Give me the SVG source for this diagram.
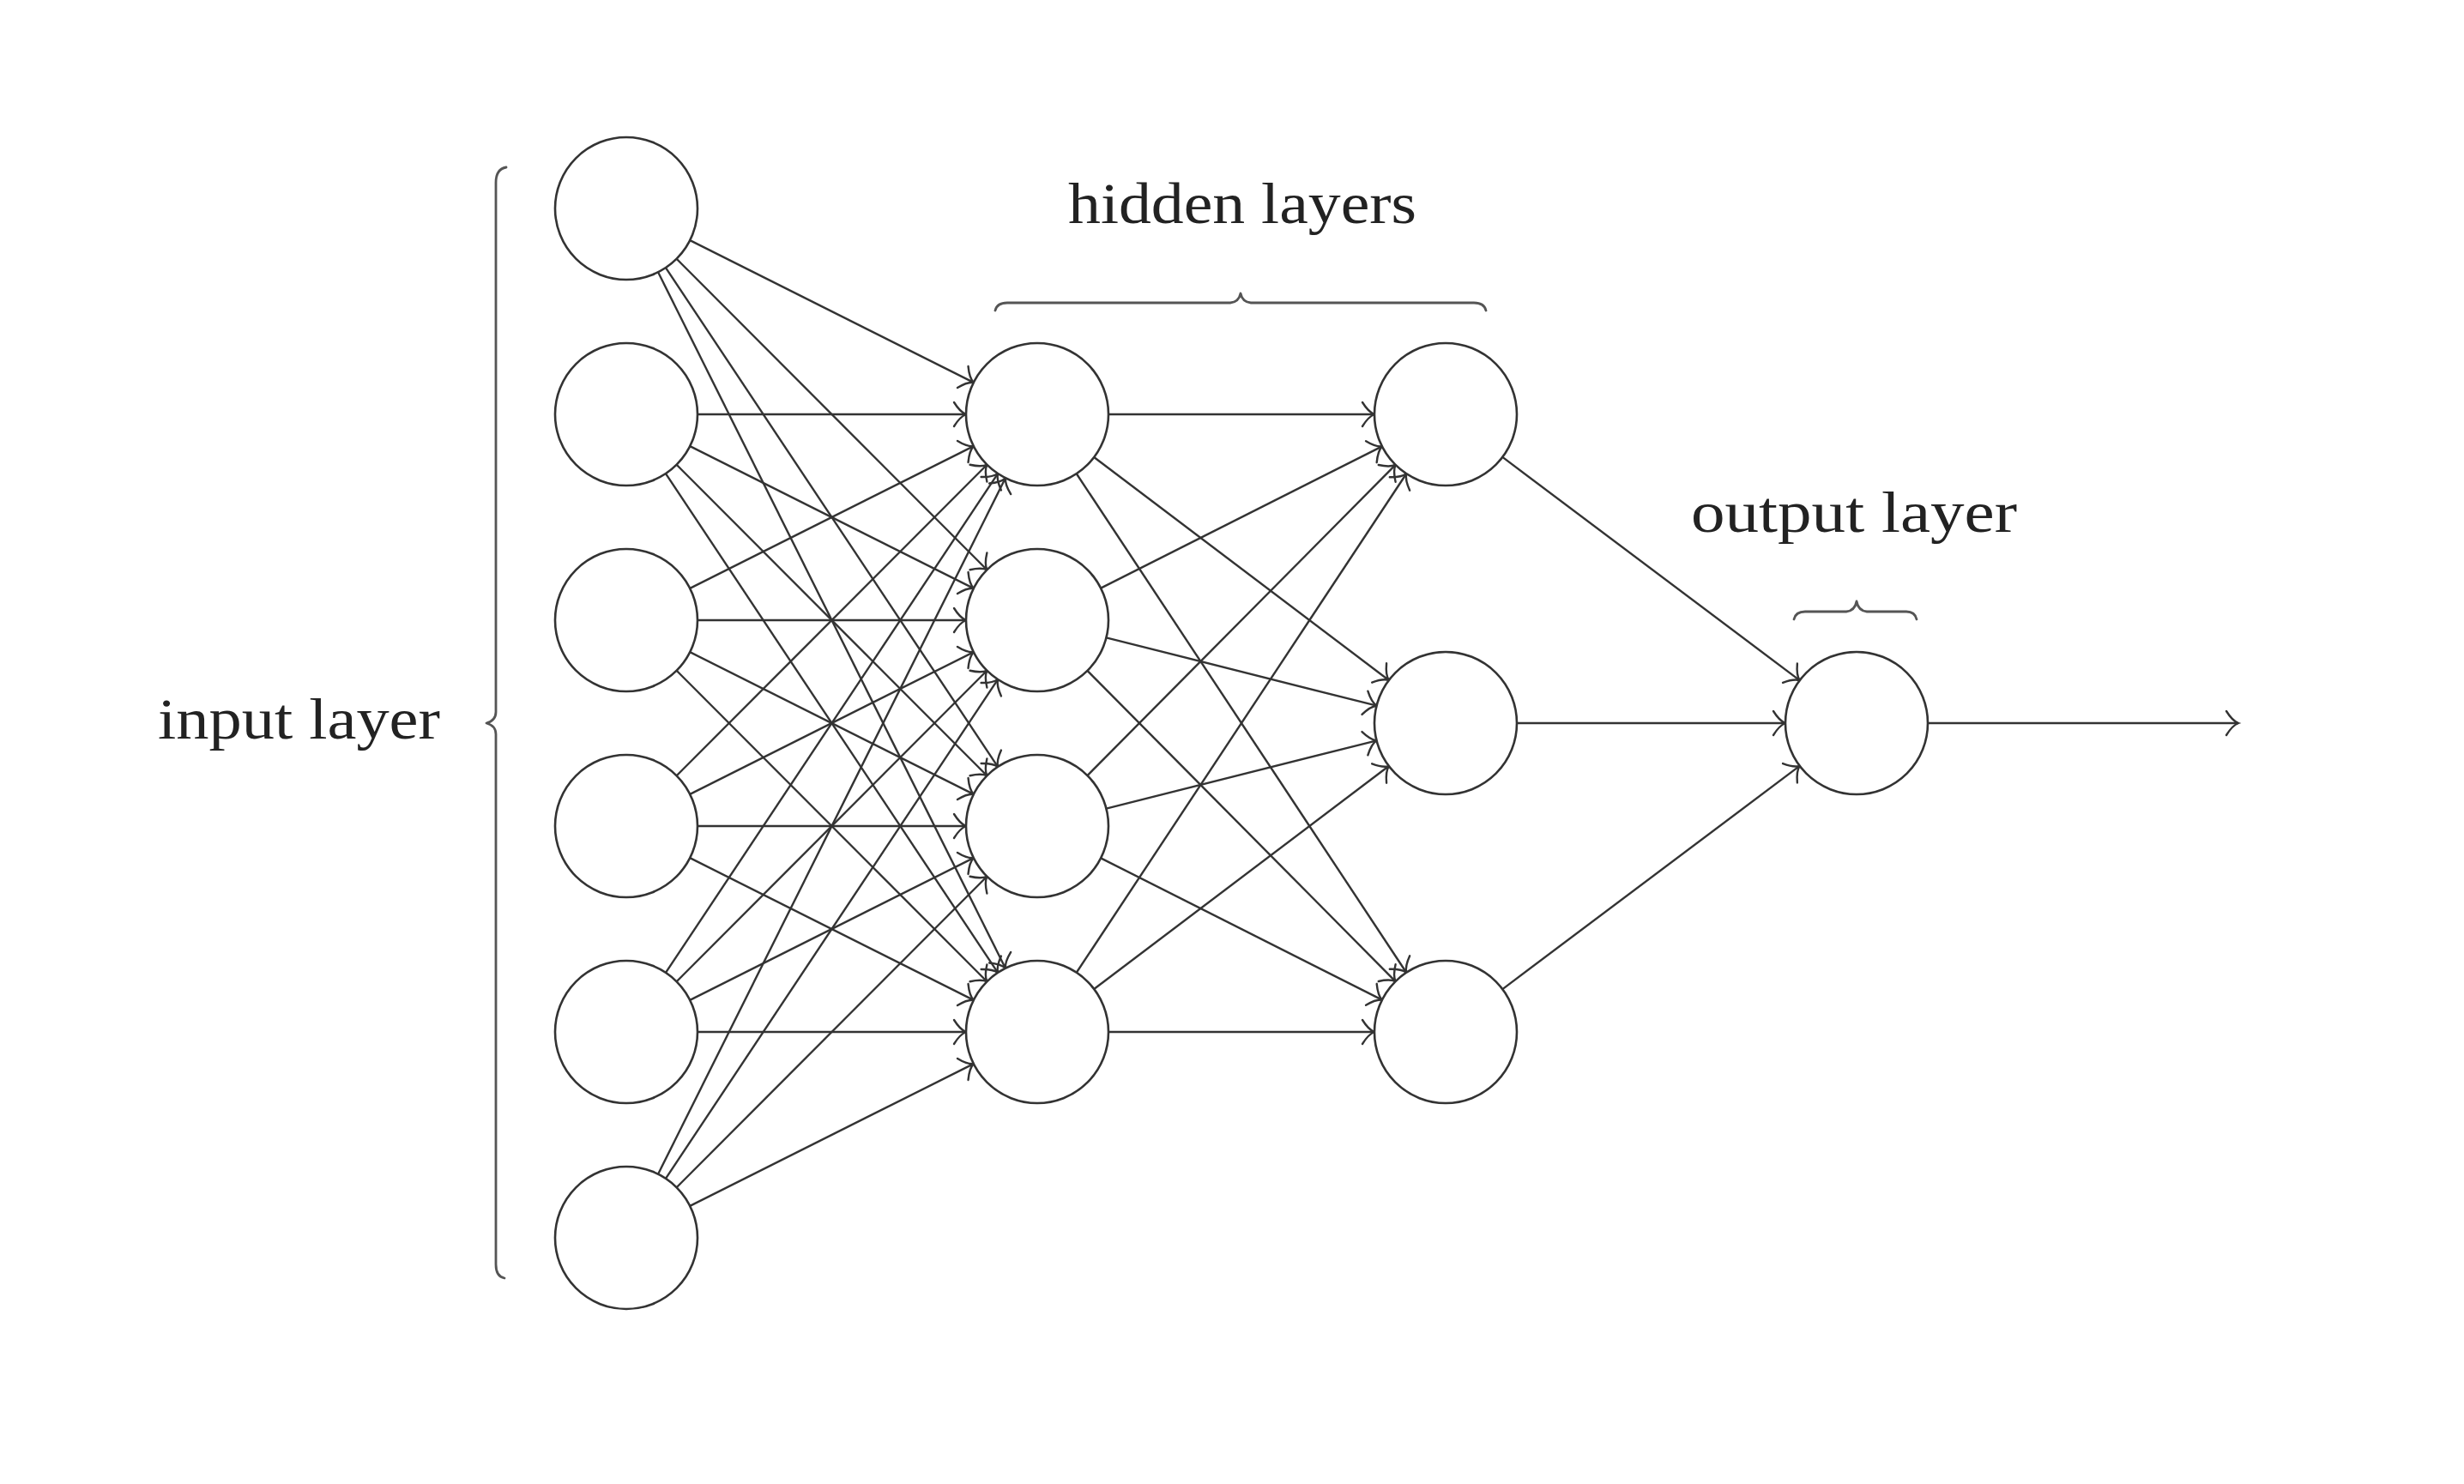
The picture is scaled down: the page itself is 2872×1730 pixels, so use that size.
<svg xmlns="http://www.w3.org/2000/svg" width="2872" height="1730" viewBox="0 0 2872 1730">
<style>
.bg{fill:#ffffff}
.node{fill:#ffffff;stroke:#333333;stroke-width:2.6}
.edge{stroke:#333333;stroke-width:2.4;fill:none;marker-end:url(#to)}
.brace{fill:none;stroke:#555555;stroke-width:2.8;stroke-linecap:round;stroke-linejoin:round}
.lbl{font-family:"Liberation Serif","DejaVu Serif",serif;font-size:68px;fill:#222222}
</style>
<defs>
<marker id="to" markerUnits="userSpaceOnUse" markerWidth="40" markerHeight="40" viewBox="-20 -20 40 40" refX="0" refY="0" orient="auto" overflow="visible">
<path d="M -14 -14 C -9 -6, -4 -1.5, 0 0 C -4 1.5, -9 6, -14 14" fill="none" stroke="#333333" stroke-width="2.4" stroke-linecap="round"/>
</marker>
</defs>
<rect class="bg" x="0" y="0" width="2872" height="1730"/>

<g id="connectors">
<line class="edge" x1="804.21" y1="280.18" x2="1134.79" y2="445.82"/>
<line class="edge" x1="788.63" y1="301.75" x2="1150.37" y2="664.25"/>
<line class="edge" x1="775.97" y1="312.10" x2="1163.03" y2="893.90"/>
<line class="edge" x1="767.06" y1="317.27" x2="1171.94" y2="1128.73"/>

<line class="edge" x1="813" y1="483" x2="1126" y2="483"/>
<line class="edge" x1="804.21" y1="520.18" x2="1134.79" y2="685.82"/>
<line class="edge" x1="788.63" y1="541.75" x2="1150.37" y2="904.25"/>
<line class="edge" x1="775.97" y1="552.10" x2="1163.03" y2="1133.90"/>

<line class="edge" x1="804.21" y1="685.82" x2="1134.79" y2="520.18"/>
<line class="edge" x1="813" y1="723" x2="1126" y2="723"/>
<line class="edge" x1="804.21" y1="760.18" x2="1134.79" y2="925.82"/>
<line class="edge" x1="788.63" y1="781.75" x2="1150.37" y2="1144.25"/>

<line class="edge" x1="788.63" y1="904.25" x2="1150.37" y2="541.75"/>
<line class="edge" x1="804.21" y1="925.82" x2="1134.79" y2="760.18"/>
<line class="edge" x1="813" y1="963" x2="1126" y2="963"/>
<line class="edge" x1="804.21" y1="1000.18" x2="1134.79" y2="1165.82"/>

<line class="edge" x1="775.97" y1="1133.90" x2="1163.03" y2="552.10"/>
<line class="edge" x1="788.63" y1="1144.25" x2="1150.37" y2="781.75"/>
<line class="edge" x1="804.21" y1="1165.82" x2="1134.79" y2="1000.18"/>
<line class="edge" x1="813" y1="1203" x2="1126" y2="1203"/>

<line class="edge" x1="767.06" y1="1368.73" x2="1171.94" y2="557.27"/>
<line class="edge" x1="775.97" y1="1373.90" x2="1163.03" y2="792.10"/>
<line class="edge" x1="788.63" y1="1384.25" x2="1150.37" y2="1021.75"/>
<line class="edge" x1="804.21" y1="1405.82" x2="1134.79" y2="1240.18"/>

<line class="edge" x1="1292" y1="483" x2="1602" y2="483"/>
<line class="edge" x1="1275.20" y1="533.07" x2="1618.80" y2="792.93"/>
<line class="edge" x1="1254.77" y1="552.24" x2="1639.23" y2="1133.76"/>
<line class="edge" x1="1283.11" y1="685.63" x2="1610.89" y2="520.37"/>
<line class="edge" x1="1289.48" y1="743.29" x2="1604.52" y2="822.71"/>
<line class="edge" x1="1267.45" y1="781.93" x2="1626.55" y2="1144.07"/>
<line class="edge" x1="1267.45" y1="904.07" x2="1626.55" y2="541.93"/>
<line class="edge" x1="1289.48" y1="942.71" x2="1604.52" y2="863.29"/>
<line class="edge" x1="1283.11" y1="1000.37" x2="1610.89" y2="1165.63"/>
<line class="edge" x1="1254.77" y1="1133.76" x2="1639.23" y2="552.24"/>
<line class="edge" x1="1275.20" y1="1152.93" x2="1618.80" y2="893.07"/>
<line class="edge" x1="1292" y1="1203" x2="1602" y2="1203"/>

<line class="edge" x1="1751.35" y1="532.87" x2="2097.65" y2="793.13"/>
<line class="edge" x1="1768" y1="843" x2="2081" y2="843"/>
<line class="edge" x1="1751.35" y1="1153.13" x2="2097.65" y2="892.87"/>

<line class="edge" x1="2247" y1="843" x2="2609" y2="843"/>
</g>

<g id="input-layer">
<g id="in1"><circle class="node" cx="730" cy="243" r="83"/></g>
<g id="in2"><circle class="node" cx="730" cy="483" r="83"/></g>
<g id="in3"><circle class="node" cx="730" cy="723" r="83"/></g>
<g id="in4"><circle class="node" cx="730" cy="963" r="83"/></g>
<g id="in5"><circle class="node" cx="730" cy="1203" r="83"/></g>
<g id="in6"><circle class="node" cx="730" cy="1443" r="83"/></g>
</g>
<g id="hidden-layer-1">
<g id="h1a"><circle class="node" cx="1209" cy="483" r="83"/></g>
<g id="h1b"><circle class="node" cx="1209" cy="723" r="83"/></g>
<g id="h1c"><circle class="node" cx="1209" cy="963" r="83"/></g>
<g id="h1d"><circle class="node" cx="1209" cy="1203" r="83"/></g>
</g>
<g id="hidden-layer-2">
<g id="h2a"><circle class="node" cx="1685" cy="483" r="83"/></g>
<g id="h2b"><circle class="node" cx="1685" cy="843" r="83"/></g>
<g id="h2c"><circle class="node" cx="1685" cy="1203" r="83"/></g>
</g>
<g id="output-layer">
<g id="out"><circle class="node" cx="2164" cy="843" r="83"/></g>
</g>

<g id="labels">
<g id="input-label">
<path class="brace" d="M 590 195 Q 578 197 578 213 L 578 830 Q 578 840 567 843 Q 578 846 578 856 L 578 1474 Q 578 1488 588 1490"/>
<text class="lbl" x="184" y="861" textLength="329" lengthAdjust="spacingAndGlyphs">input layer</text>
</g>
<g id="hidden-label">
<path class="brace" d="M 1160 362 Q 1162 353 1174 353 L 1434 353 Q 1444 352 1446 342 Q 1448 352 1458 353 L 1718 353 Q 1730 353 1732 362"/>
<text class="lbl" x="1245" y="260" textLength="406" lengthAdjust="spacingAndGlyphs">hidden layers</text>
</g>
<g id="output-label">
<path class="brace" d="M 2091 722 Q 2093 713 2104 713 L 2152 713 Q 2162 712 2164 701 Q 2166 712 2176 713 L 2222 713 Q 2232 713 2234 722"/>
<text class="lbl" x="1971" y="620" textLength="380" lengthAdjust="spacingAndGlyphs">output layer</text>
</g>
</g>
</svg>
